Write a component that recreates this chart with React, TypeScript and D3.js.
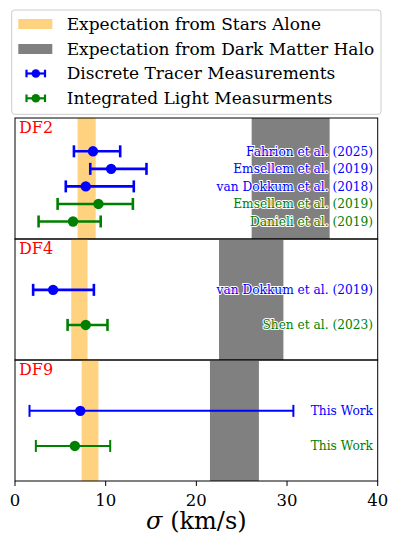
import React from 'react';
import * as d3 from 'd3';

// ---------- data ----------
const panelNames = ['DF2', 'DF4', 'DF9'];
const panelYMax = [6.9, 3.45, 3.45];
const starLow = [6.9, 6.2, 7.35];
const starHigh = [8.9, 8.0, 9.2];
const haloLow = [26.1, 22.5, 21.5];
const haloHigh = [34.7, 29.6, 26.9];

const measPanel = ['DF2', 'DF2', 'DF2', 'DF2', 'DF2', 'DF4', 'DF4', 'DF9', 'DF9'];
const measLabel = [
  'Fahrion et al. (2025)',
  'Emsellem et al. (2019)',
  'van Dokkum et al. (2018)',
  'Emsellem et al. (2019)',
  'Danieli et al. (2019)',
  'van Dokkum et al. (2019)',
  'Shen et al. (2023)',
  'This Work',
  'This Work',
];
const measType = ['discrete', 'discrete', 'discrete', 'integrated', 'integrated', 'discrete', 'integrated', 'discrete', 'integrated'];
const measValue = [8.6, 10.6, 7.8, 9.2, 6.4, 4.2, 7.8, 7.2, 6.6];
const measLow = [6.5, 8.3, 5.6, 4.7, 2.6, 2.0, 5.8, 1.6, 2.3];
const measHigh = [11.6, 14.5, 13.1, 13.0, 9.45, 8.7, 10.2, 30.7, 10.5];
const measRow = [5, 4, 3, 2, 1, 2, 1, 2, 1];

const xTicks = [0, 10, 20, 30, 40];
const legendLabels = [
  'Expectation from Stars Alone',
  'Expectation from Dark Matter Halo',
  'Discrete Tracer Measurements',
  'Integrated Light Measurments',
];

const typeColor: Record<string, string> = { discrete: '#0000ff', integrated: '#008000' };
const FONT = "'DejaVu Serif', serif";

export default function App() {
  const W = 400, H = 549;
  const left = 15, right = 377.7;
  const top0 = 118, panelH = 121;
  const x = d3.scaleLinear().domain([0, 40]).range([left, right]);
  const bottom = top0 + panelH * panelNames.length;

  const legendRowY = [24, 49, 73.5, 98.3];

  return (
    <svg width={W} height={H} style={{ position: 'absolute', left: 0, top: 0, background: '#fff' }}>
      {/* legend */}
      <rect x={11.7} y={10} width={369.3} height={104.3} rx={3} fill="#fff" stroke="#cccccc" strokeWidth={1} />
      {legendLabels.map((lab, i) => {
        const cy = legendRowY[i];
        let marker;
        if (i === 0) marker = <rect x={18.3} y={cy - 5} width={34} height={10} fill="#ffa500" fillOpacity={0.5} />;
        else if (i === 1) marker = <rect x={18.3} y={cy - 5} width={34} height={10} fill="#808080" />;
        else {
          const c = i === 2 ? typeColor.discrete : typeColor.integrated;
          marker = (
            <g stroke={c} strokeWidth={2.2}>
              <line x1={26.5} x2={45} y1={cy} y2={cy} />
              <line x1={26.5} x2={26.5} y1={cy - 3.8} y2={cy + 3.8} />
              <line x1={45} x2={45} y1={cy - 3.8} y2={cy + 3.8} />
              <circle cx={35.8} cy={cy} r={4.3} fill={c} stroke="none" />
            </g>
          );
        }
        return (
          <g key={i}>
            {marker}
            <text x={66.7} y={cy + 5.8} fontFamily={FONT} fontSize={17} fill="#000">{lab}</text>
          </g>
        );
      })}

      {/* panels */}
      {panelNames.map((name, pi) => {
        const pt = top0 + pi * panelH;
        const y = d3.scaleLinear().domain([0, panelYMax[pi]]).range([pt + panelH, pt]);
        const idx = measPanel.map((p, k) => (p === name ? k : -1)).filter(k => k >= 0);
        const lw = name === 'DF9' ? 2 : 2.6;
        return (
          <g key={name}>
            <rect x={x(starLow[pi])} y={pt} width={x(starHigh[pi]) - x(starLow[pi])} height={panelH} fill="#ffa500" fillOpacity={0.5} />
            <rect x={x(haloLow[pi])} y={pt} width={x(haloHigh[pi]) - x(haloLow[pi])} height={panelH} fill="#808080" />
            {idx.map(k => {
              const c = typeColor[measType[k]];
              const yy = y(measRow[k]);
              return (
                <g key={k}>
                  <g stroke={c} strokeWidth={lw}>
                    <line x1={x(measLow[k])} x2={x(measHigh[k])} y1={yy} y2={yy} />
                    <line x1={x(measLow[k])} x2={x(measLow[k])} y1={yy - 6} y2={yy + 6} />
                    <line x1={x(measHigh[k])} x2={x(measHigh[k])} y1={yy - 6} y2={yy + 6} />
                  </g>
                  <circle cx={x(measValue[k])} cy={yy} r={5.2} fill={c} />
                  <text x={373} y={yy + 4.3} textAnchor="end" fontFamily={FONT} fontSize={12.2} fill={c}
                    stroke="#fff" strokeWidth={2} paintOrder="stroke" strokeLinejoin="round">{measLabel[k]}</text>
                </g>
              );
            })}
            <text x={19} y={pt + 15.3} fontFamily={FONT} fontSize={16} fill="#ff0000">{name}</text>
            <rect x={left} y={pt} width={right - left} height={panelH} fill="none" stroke="#000" strokeWidth={1} />
          </g>
        );
      })}

      {/* x axis */}
      {xTicks.map(t => (
        <g key={t}>
          <line x1={x(t)} x2={x(t)} y1={bottom} y2={bottom + 5} stroke="#000" strokeWidth={1} />
          <text x={x(t)} y={bottom + 24.5} textAnchor="middle" fontFamily={FONT} fontSize={16.5} fill="#000">{t}</text>
        </g>
      ))}
      <text x={(left + right) / 2} y={529} textAnchor="middle" fontFamily={FONT} fontSize={24} fill="#000">
        <tspan fontStyle="italic">σ</tspan> (km/s)
      </text>
    </svg>
  );
}
